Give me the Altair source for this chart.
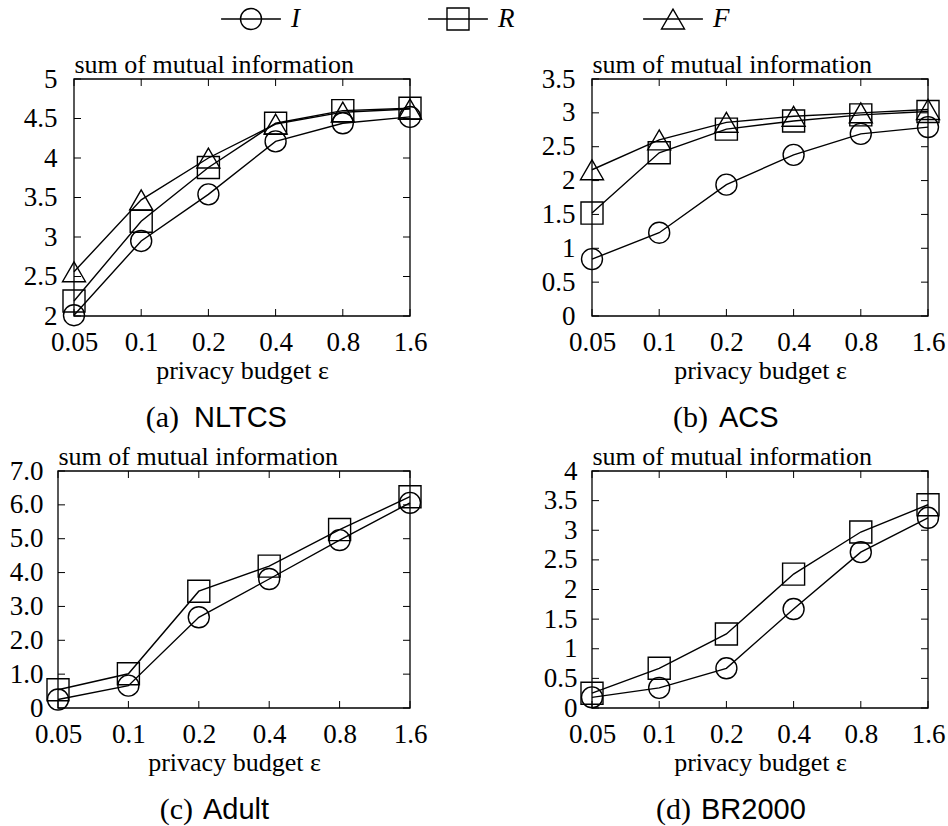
import altair as alt
import pandas as pd

# privacy budgets on the x axis (log-spaced, doubling)
EPS = [0.05, 0.1, 0.2, 0.4, 0.8, 1.6]
SERIES = ["I", "R", "F"]

# NLTCS
nltcs_I = [2.01, 2.95, 3.54, 4.21, 4.44, 4.52]
nltcs_R = [2.19, 3.20, 3.88, 4.44, 4.60, 4.63]
nltcs_F = [2.56, 3.47, 4.00, 4.43, 4.58, 4.62]

# ACS
acs_I = [0.84, 1.23, 1.94, 2.38, 2.69, 2.79]
acs_R = [1.52, 2.41, 2.76, 2.88, 2.97, 3.02]
acs_F = [2.16, 2.60, 2.86, 2.95, 3.00, 3.05]

# Adult
adult_I = [0.25, 0.66, 2.68, 3.81, 4.96, 6.06]
adult_R = [0.54, 1.01, 3.45, 4.19, 5.27, 6.24]

# BR2000
br_I = [0.18, 0.34, 0.67, 1.67, 2.63, 3.21]
br_R = [0.25, 0.67, 1.25, 2.26, 2.97, 3.43]

# y tick values per panel
nltcs_ticks = [2, 2.5, 3, 3.5, 4, 4.5, 5]
acs_ticks = [0, 0.5, 1, 1.5, 2, 2.5, 3, 3.5]
adult_ticks = [0, 1, 2, 3, 4, 5, 6, 7]
br_ticks = [0, 0.5, 1, 1.5, 2, 2.5, 3, 3.5, 4]

SERIF = "Liberation Serif"
SANS = "Liberation Sans"
FS = 27        # tick labels
TITLE_FS = 26  # axis titles
TICK_LEN = 7
LW = 1.4
FRAME_W = 1.3

SHAPES = ["circle", "square", "triangle-up"]
PLOT_SIZES = [250, 280, 320]
LEGEND_SIZES = [440, 529, 780]


def long_frame(series_map):
    rows = []
    for s, vals in series_map.items():
        for e, v in zip(EPS, vals):
            rows.append({"eps": e, "value": v, "series": s})
    return pd.DataFrame(rows)


def panel(tag, name, series_map, yticks, label_expr, width, height,
          label_pad, inset, tag_right, name_left):
    """One sub-figure; `inset` leaves blank room left of the frame."""
    ymin, ymax = yticks[0], yticks[-1]
    df = long_frame(series_map)
    xscale = alt.Scale(type="log", domain=[EPS[0], EPS[-1]], nice=False,
                       range=[inset, width])
    yscale = alt.Scale(domain=[ymin, ymax], nice=False, zero=False)
    xaxis = alt.Axis(values=EPS, format="~g", title="privacy budget ε",
                     ticks=False, tickSize=0, domain=False, grid=False,
                     labelFlush=False, labelOverlap=False,
                     labelPadding=13, titlePadding=2)
    yaxis = alt.Axis(values=yticks, labelExpr=label_expr,
                     title="sum of mutual information", titleAngle=0,
                     titleX=0, titleY=-7, titleAlign="left",
                     titleBaseline="alphabetic", ticks=False, tickSize=0,
                     domain=False, grid=False, labelFlush=False,
                     labelOverlap=False, labelPadding=label_pad,
                     offset=-inset)
    x = alt.X("eps:Q", scale=xscale, axis=xaxis)
    y = alt.Y("value:Q", scale=yscale, axis=yaxis)
    x_lo = alt.XDatum(EPS[0], scale=xscale, axis=xaxis)
    y_lo = alt.YDatum(ymin, scale=yscale, axis=yaxis)

    # plot frame spanning the full x and y domains
    frame = alt.Chart(pd.DataFrame({"frame": [0]})).mark_rect(
        filled=False, stroke="black", strokeWidth=FRAME_W).encode(
        x=x_lo, x2=alt.X2Datum(EPS[-1]), y=y_lo, y2=alt.Y2Datum(ymax))

    base = alt.Chart(df)
    lines = base.mark_line(color="black", strokeWidth=LW).encode(
        x=x, y=y, detail="series:N")
    pts = base.mark_point(filled=False, color="black", strokeWidth=LW,
                          opacity=1).encode(
        x=x, y=y,
        shape=alt.Shape("series:N", legend=None,
                        scale=alt.Scale(domain=SERIES, range=SHAPES)),
        size=alt.Size("series:N", legend=None,
                      scale=alt.Scale(domain=SERIES, range=PLOT_SIZES)),
    )

    # inward ticks on all four sides of the frame
    xt = alt.Chart(pd.DataFrame({"eps": EPS}))
    yt = alt.Chart(pd.DataFrame({"value": yticks}))
    tick_style = dict(color="black", strokeWidth=1)
    bottom = xt.mark_rule(y2Offset=-TICK_LEN, **tick_style).encode(
        x=x, y=y_lo, y2=alt.Y2Datum(ymin))
    top = xt.mark_rule(y2Offset=TICK_LEN, **tick_style).encode(
        x=x, y=alt.YDatum(ymax, scale=yscale, axis=yaxis),
        y2=alt.Y2Datum(ymax))
    left = yt.mark_rule(x2Offset=TICK_LEN, **tick_style).encode(
        y=y, x=x_lo, x2=alt.X2Datum(EPS[0]))
    right = yt.mark_rule(x2Offset=-TICK_LEN, **tick_style).encode(
        y=y, x=alt.XDatum(EPS[-1], scale=xscale, axis=xaxis),
        x2=alt.X2Datum(EPS[-1]))

    # sub-figure caption below the axis title
    cap = alt.Chart(pd.DataFrame({"tag": [tag], "name": [name]}))
    tag_txt = cap.mark_text(font=SERIF, fontSize=30, align="right",
                            baseline="middle", color="black").encode(
        text="tag:N", x=alt.value(tag_right), y=alt.value(height + 102))
    name_txt = cap.mark_text(font=SANS, fontSize=29, align="left",
                             baseline="middle", color="black").encode(
        text="name:N", x=alt.value(name_left), y=alt.value(height + 102))

    return alt.layer(frame, lines, pts, bottom, top, left, right, tag_txt,
                     name_txt).properties(width=width, height=height)


plain = "format(datum.value, '~g')"
one_dec = "datum.value == 0 ? '0' : format(datum.value, '.1f')"

pa = panel("(a)", "NLTCS", {"I": nltcs_I, "R": nltcs_R, "F": nltcs_F},
           nltcs_ticks, plain, 352, 237, 17, 16, 121, 136)
pb = panel("(b)", "ACS", {"I": acs_I, "R": acs_R, "F": acs_F},
           acs_ticks, plain, 336, 237, 17, 0, 116, 127)
pc = panel("(c)", "Adult", {"I": adult_I, "R": adult_R},
           adult_ticks, one_dec, 352, 237, 15, 0, 135, 145)
pd_ = panel("(d)", "BR2000", {"I": br_I, "R": br_R},
            br_ticks, plain, 336, 237, 15, 0, 99, 109)

# legend row: line sample with the marker drawn over it, then the label
leg_df = pd.DataFrame({"series": SERIES, "slot": [0, 1, 2]})
lx = alt.X("slot:Q", axis=None,
           scale=alt.Scale(domain=[0, 1, 2], range=[193, 400, 615]))
seg = alt.Chart(leg_df).mark_point(shape="M-2.6,0H2.6", size=529,
                                   strokeWidth=LW, color="black",
                                   filled=False, opacity=1).encode(x=lx)
sym = alt.Chart(leg_df).mark_point(filled=False, color="black",
                                   strokeWidth=LW, opacity=1).encode(
    x=lx,
    shape=alt.Shape("series:N", legend=None,
                    scale=alt.Scale(domain=SERIES, range=SHAPES)),
    size=alt.Size("series:N", legend=None,
                  scale=alt.Scale(domain=SERIES, range=LEGEND_SIZES)),
)
lab = alt.Chart(leg_df).mark_text(font=SERIF, fontStyle="italic", fontSize=FS,
                                  align="left", baseline="middle", dx=40,
                                  color="black").encode(x=lx, text="series:N")
legend = alt.layer(seg, sym, lab).properties(
    width=690, height=38,
    view=alt.ViewBackground(stroke="white", strokeWidth=0, fill="white"))

row1 = alt.hconcat(pa, pb, spacing=182, bounds="flush")
row2 = alt.hconcat(pc, pd_, spacing=182, bounds="flush")
grid = alt.concat(row1, row2, columns=1, spacing=8)

chart = alt.concat(legend, grid, columns=1, spacing=12).properties(
    padding={"left": 8, "top": 0, "right": 0, "bottom": 0}
).configure_view(
    stroke="transparent"
).configure_axis(
    labelFont=SERIF, labelFontSize=FS, labelColor="black",
    titleFont=SERIF, titleFontSize=TITLE_FS, titleFontWeight="normal",
    titleColor="black"
)

chart.save("out.html", embed_options={"renderer": "svg", "actions": False})
